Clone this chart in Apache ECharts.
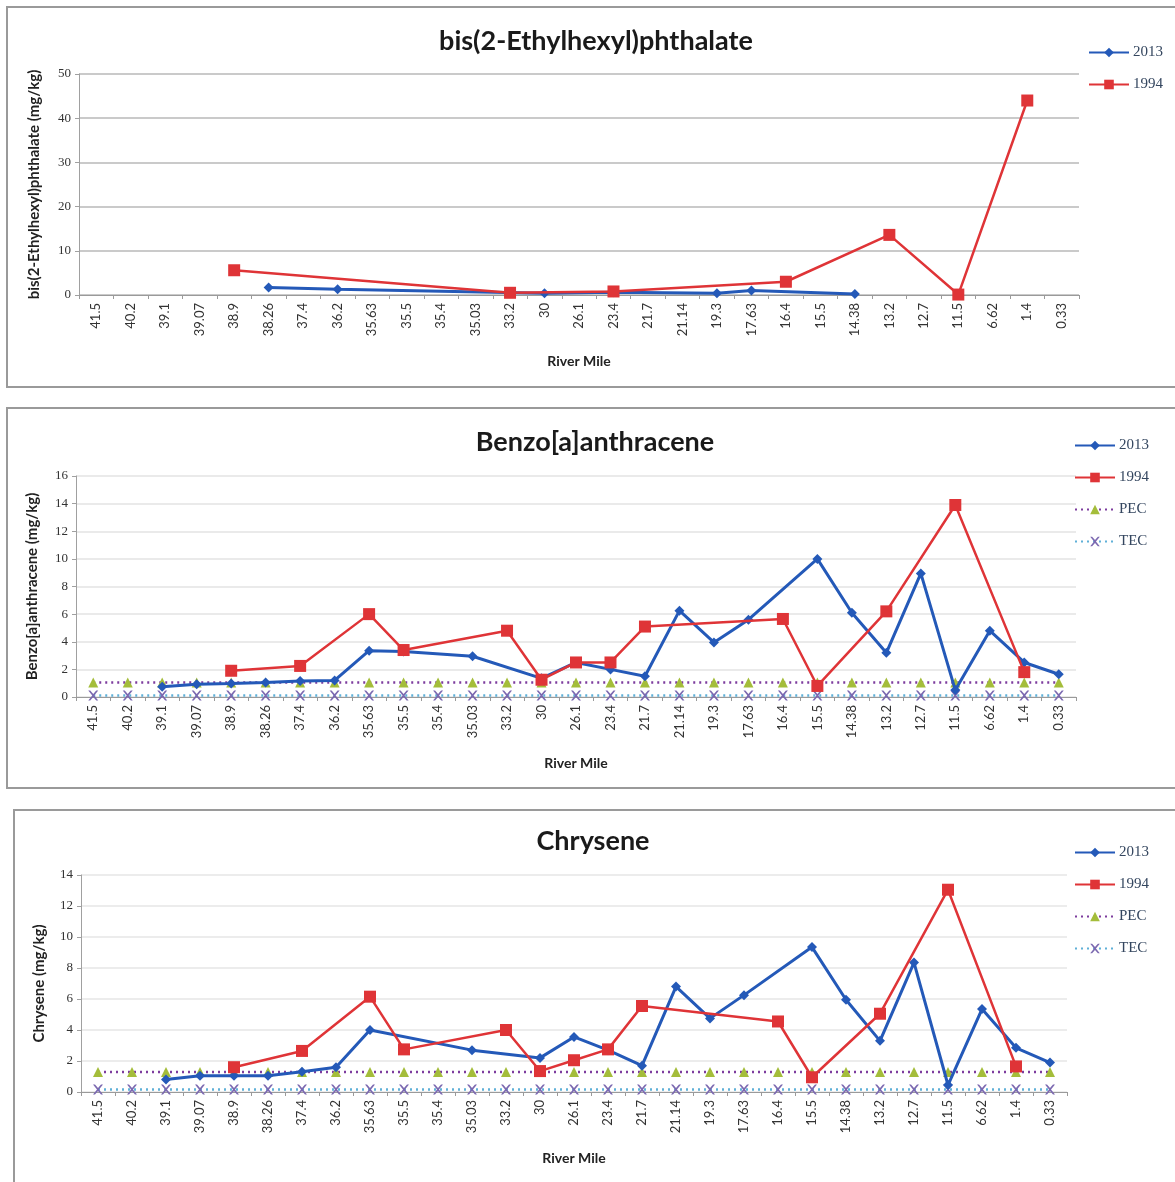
<!DOCTYPE html>
<html>
<head>
<meta charset="utf-8">
<script src="https://cdn.jsdelivr.net/npm/echarts@6/dist/echarts.min.js"></script>
<style>
html,body{margin:0;padding:0;background:#fff;}
#c{width:1175px;height:1182px;}
</style>
</head>
<body>
<div id="c"></div>
<script>
const riverMiles = ['41.5','40.2','39.1','39.07','38.9','38.26','37.4','36.2','35.63','35.5','35.4','35.03','33.2','30','26.1','23.4','21.7','21.14','19.3','17.63','16.4','15.5','14.38','13.2','12.7','11.5','6.62','1.4','0.33'];

const titles = ['bis(2-Ethylhexyl)phthalate', 'Benzo[a]anthracene', 'Chrysene'];
const yNames = ['bis(2-Ethylhexyl)phthalate (mg/kg)', 'Benzo[a]anthracene (mg/kg)', 'Chrysene (mg/kg)'];
const xName = 'River Mile';
const yMax = [50, 16, 14];
const yStep = [10, 2, 2];

const behp2013 = [null,null,null,null,null,1.7,null,1.3,null,null,null,null,null,0.4,null,0.6,null,null,0.4,1.0,null,null,0.25,null,null,null,null,null,null];
const behp1994 = [null,null,null,null,5.6,null,null,null,null,null,null,null,0.5,null,null,0.8,null,null,null,null,3.0,null,null,13.6,null,0.1,null,44,null];

const baa2013 = [null,null,0.75,0.92,0.97,1.05,1.15,1.2,3.35,3.3,null,2.95,null,1.35,2.5,2.0,1.5,6.25,3.95,5.6,null,10.0,6.1,3.2,8.95,0.5,4.8,2.5,1.65];
const baa1994 = [null,null,null,null,1.9,null,2.25,null,6.0,3.4,null,null,4.8,1.25,2.5,2.5,5.1,null,null,null,5.65,0.8,null,6.2,null,13.9,null,1.8,null];
const baaPEC = [1.05,1.05,1.05,1.05,1.05,1.05,1.05,1.05,1.05,1.05,1.05,1.05,1.05,1.05,1.05,1.05,1.05,1.05,1.05,1.05,1.05,1.05,1.05,1.05,1.05,1.05,1.05,1.05,1.05];
const baaTEC = [0.108,0.108,0.108,0.108,0.108,0.108,0.108,0.108,0.108,0.108,0.108,0.108,0.108,0.108,0.108,0.108,0.108,0.108,0.108,0.108,0.108,0.108,0.108,0.108,0.108,0.108,0.108,0.108,0.108];

const chr2013 = [null,null,0.8,1.05,1.05,1.05,1.3,1.6,4.0,null,null,2.7,null,2.2,3.55,2.7,1.7,6.8,4.75,6.25,null,9.35,5.95,3.3,8.35,0.45,5.35,2.85,1.9];
const chr1994 = [null,null,null,null,1.6,null,2.65,null,6.15,2.75,null,null,4.0,1.35,2.05,2.75,5.55,null,null,null,4.55,0.95,null,5.05,null,13.05,null,1.65,null];
const chrPEC = [1.29,1.29,1.29,1.29,1.29,1.29,1.29,1.29,1.29,1.29,1.29,1.29,1.29,1.29,1.29,1.29,1.29,1.29,1.29,1.29,1.29,1.29,1.29,1.29,1.29,1.29,1.29,1.29,1.29];
const chrTEC = [0.166,0.166,0.166,0.166,0.166,0.166,0.166,0.166,0.166,0.166,0.166,0.166,0.166,0.166,0.166,0.166,0.166,0.166,0.166,0.166,0.166,0.166,0.166,0.166,0.166,0.166,0.166,0.166,0.166];

const BLUE = '#2459b8', RED = '#df3437', GREEN = '#a4bd3a', PURPLE = '#7d3c9e', LBLUE = '#5fb0d8', XCOL = '#7b68b0';
const gridDef = [
  {left: 79, top: 74, width: 1000, height: 221},
  {left: 76, top: 476, width: 1000, height: 221},
  {left: 81, top: 875, width: 986, height: 217}
];
const splitCol = ['#b8b8b8', '#e3e3e3', '#e6e6e6'];
const titleTop = [23, 424, 823];
const titleX = [591, 590, 588];
const legendDef = [
  {left: 1083, top: 40, data: ['2013','1994']},
  {left: 1069, top: 433, data: ['2013','1994','PEC','TEC']},
  {left: 1069, top: 840, data: ['2013','1994','PEC','TEC']}
];
const nameGapY = [37, 36, 34];

const chart = echarts.init(document.getElementById('c'));

const option = {
  animation: false,
  backgroundColor: '#fff',
  graphic: [
    {type:'rect', shape:{x:7, y:7, width:1180, height:380}, style:{fill:'none', stroke:'#9a9a9a', lineWidth:2}},
    {type:'rect', shape:{x:7, y:408, width:1180, height:380}, style:{fill:'none', stroke:'#9a9a9a', lineWidth:2}},
    {type:'rect', shape:{x:14, y:810, width:1180, height:380}, style:{fill:'none', stroke:'#9a9a9a', lineWidth:2}}
  ],
  title: titles.map((t, i) => ({
    text: t, left: titleX[i], top: titleTop[i], textAlign: 'center',
    textStyle: {fontFamily: 'Lato', fontWeight: 'bold', fontSize: 27, color: '#1a1a1a'}
  })),
  legend: legendDef.map(l => ({
    left: l.left, top: l.top, orient: 'vertical', data: l.data,
    itemWidth: 40, itemHeight: 12, itemGap: 17,
    textStyle: {fontFamily: 'Liberation Serif', fontSize: 15, color: '#34465f', padding: [0,0,0,-1]}
  })),
  grid: gridDef,
  xAxis: gridDef.map((g, i) => ({
    type: 'category', gridIndex: i, data: riverMiles, boundaryGap: true,
    name: xName, nameLocation: 'middle', nameGap: 59,
    nameTextStyle: {fontFamily: 'Lato', fontWeight: 'bold', fontSize: 14, color: '#222'},
    axisLine: {lineStyle: {color: '#9a9a9a', width: 1}},
    axisTick: {show: true, length: 4, lineStyle: {color: '#9a9a9a'}},
    axisLabel: {rotate: 90, interval: 0, fontFamily: 'Lato', fontSize: 13, color: '#333', margin: 8}
  })),
  yAxis: gridDef.map((g, i) => ({
    type: 'value', gridIndex: i, min: 0, max: yMax[i], interval: yStep[i],
    name: yNames[i], nameLocation: 'middle', nameGap: nameGapY[i],
    nameTextStyle: {fontFamily: 'Lato', fontWeight: 'bold', fontSize: 15, color: '#222'},
    axisLine: {show: true, lineStyle: {color: '#a0a0a0'}},
    axisTick: {show: true, length: 4, lineStyle: {color: '#a0a0a0'}},
    axisLabel: {fontFamily: 'Liberation Serif', fontSize: 13, color: '#333', margin: 8},
    splitLine: {lineStyle: {color: splitCol[i], width: 1.5}}
  })),
  series: []
};

function line2013(data, idx) {
  return {name: '2013', type: 'line', xAxisIndex: idx, yAxisIndex: idx, data: data, connectNulls: true,
    symbol: 'diamond', symbolSize: 10, z: 4,
    lineStyle: {color: BLUE, width: 3}, itemStyle: {color: BLUE}};
}
function line1994(data, idx) {
  return {name: '1994', type: 'line', xAxisIndex: idx, yAxisIndex: idx, data: data, connectNulls: true,
    symbol: 'rect', symbolSize: 12, z: 5,
    lineStyle: {color: RED, width: 2.5}, itemStyle: {color: RED}};
}
function linePEC(data, idx) {
  return {name: 'PEC', type: 'line', xAxisIndex: idx, yAxisIndex: idx, data: data,
    symbol: 'triangle', symbolSize: 10, z: 3,
    lineStyle: {color: PURPLE, width: 2.5, type: [2, 4]}, itemStyle: {color: GREEN}};
}
function lineTEC(data, idx) {
  return {name: 'TEC', type: 'line', xAxisIndex: idx, yAxisIndex: idx, data: data,
    symbol: 'path://M0,0 L2,0 L5,3.5 L8,0 L10,0 L6,5 L10,10 L8,10 L5,6.5 L2,10 L0,10 L4,5 Z', symbolSize: 10, z: 3,
    lineStyle: {color: LBLUE, width: 2.5, type: [2, 4]}, itemStyle: {color: XCOL}};
}

option.series.push(line2013(behp2013, 0), line1994(behp1994, 0));
option.series.push(line2013(baa2013, 1), line1994(baa1994, 1), linePEC(baaPEC, 1), lineTEC(baaTEC, 1));
option.series.push(line2013(chr2013, 2), line1994(chr1994, 2), linePEC(chrPEC, 2), lineTEC(chrTEC, 2));

chart.setOption(option);
</script>
</body>
</html>
